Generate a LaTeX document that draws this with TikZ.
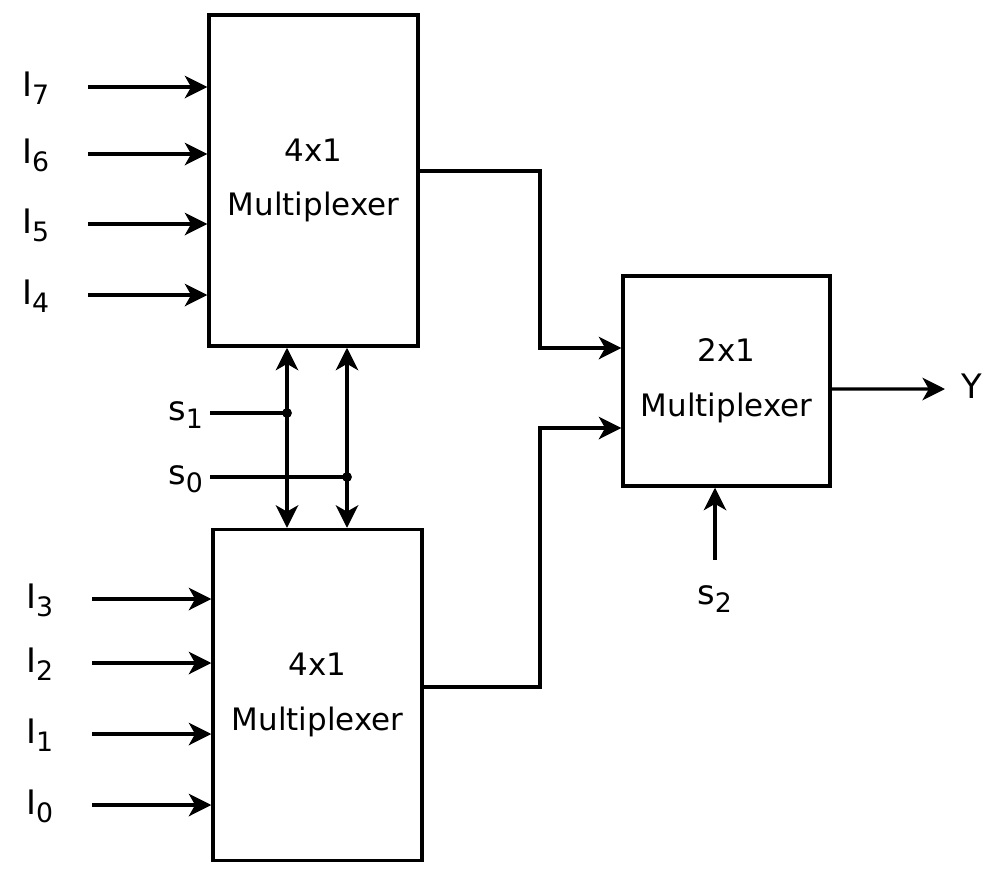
\documentclass[tikz,border=0pt]{standalone}
\usepackage{fontspec}
\setmainfont{DejaVu Sans}
\usetikzlibrary{positioning, calc, arrows.meta}
\newcommand{\sbs}[1]{\raisebox{-6pt}{\fontsize{19}{19}\selectfont #1}}

\begin{document}
\begin{tikzpicture}[
            x=0.025cm, y=-0.025cm,
            mux/.style={rectangle, draw, line width=2.4pt, align=center, font=\fontsize{22}{39}\selectfont},
            muxfour/.style={mux, minimum width=5.225cm, minimum height=8.275cm},
            muxtwo/.style={mux, minimum width=5.175cm, minimum height=5.25cm},
            lbl/.style={anchor=base west, inner sep=0pt, font=\fontsize{24}{28}\selectfont},
            line/.style={draw, line width=2.4pt},
            sigline/.style={line, -{Stealth[length=16pt, width=16pt, inset=4.5pt]}},
            busline/.style={line, {Stealth[length=16pt, width=16pt, inset=4.5pt]}-{Stealth[length=16pt, width=16pt, inset=4.5pt]}},
            dot/.style={circle, fill, inner sep=0pt, minimum size=7pt}
        ]
            \useasboundingbox (0,0) rectangle (995,876);

            % --- multiplexer blocks ---
            \node[muxfour] (muxhi) at (313.5,180.5) {4x1\\Multiplexer};
            \node[muxfour, below=4.5cm of muxhi, xshift=0.1cm] (muxlo) {4x1\\Multiplexer};
            \node[muxtwo] (muxout) at (726.5,381) {2x1\\Multiplexer};

            % --- inputs of the upper block ---
            \node[lbl] (i7) at (22,96) {I\sbs{7}};
            \node[lbl] (i6) at (22,163) {I\sbs{6}};
            \node[lbl] (i5) at (22,233) {I\sbs{5}};
            \node[lbl] (i4) at (22,304) {I\sbs{4}};
            \coordinate (a7) at (88,87);
            \coordinate (a6) at (88,154);
            \coordinate (a5) at (88,224);
            \coordinate (a4) at (88,295);
            \path[sigline] (a7) -- (a7 -| muxhi.west);
            \path[sigline] (a6) -- (a6 -| muxhi.west);
            \path[sigline] (a5) -- (a5 -| muxhi.west);
            \path[sigline] (a4) -- (a4 -| muxhi.west);

            % --- inputs of the lower block ---
            \node[lbl] (i3) at (26,608) {I\sbs{3}};
            \node[lbl] (i2) at (26,672) {I\sbs{2}};
            \node[lbl] (i1) at (26,743) {I\sbs{1}};
            \node[lbl] (i0) at (26,814) {I\sbs{0}};
            \coordinate (a3) at (92,599);
            \coordinate (a2) at (92,663);
            \coordinate (a1) at (92,734);
            \coordinate (a0) at (92,805);
            \path[sigline] (a3) -- (a3 -| muxlo.west);
            \path[sigline] (a2) -- (a2 -| muxlo.west);
            \path[sigline] (a1) -- (a1 -| muxlo.west);
            \path[sigline] (a0) -- (a0 -| muxlo.west);

            % --- select lines s1, s0 ---
            \coordinate (j1) at (287,413);
            \coordinate (j0) at (347,477);
            \coordinate (t1) at (210,413);
            \coordinate (t0) at (210,477);
            \node[lbl] (s1) at (168,420) {s\sbs{1}};
            \node[lbl] (s0) at (168,484) {s\sbs{0}};
            \path[busline] (j1 |- muxhi.south) -- (j1 |- muxlo.north);
            \path[busline] (j0 |- muxhi.south) -- (j0 |- muxlo.north);
            \path[line] (t1) -- (j1);
            \path[line] (t0) -- (j0);
            \node[dot] at (j1) {};
            \node[dot] at (j0) {};

            % --- outputs into the 2x1 block ---
            \coordinate (khi) at (540,348);
            \coordinate (klo) at (540,428);
            \path[sigline] ([yshift=0.24cm]muxhi.east) -| (khi) -- (khi -| muxout.west);
            \path[sigline] ([yshift=0.2cm]muxlo.east) -| (klo) -- (klo -| muxout.west);

            % --- s2 and Y ---
            \coordinate (s2t) at (715,560);
            \node[lbl] (s2) at (697,604) {s\sbs{2}};
            \path[sigline] (s2t) -- (s2t |- muxout.south);
            \coordinate (yo) at (945,389);
            \node[lbl] (y) at (961,398) {Y};
            \path[sigline] ([yshift=-0.2cm]muxout.east) -- (yo);

        \end{tikzpicture}
\end{document}
